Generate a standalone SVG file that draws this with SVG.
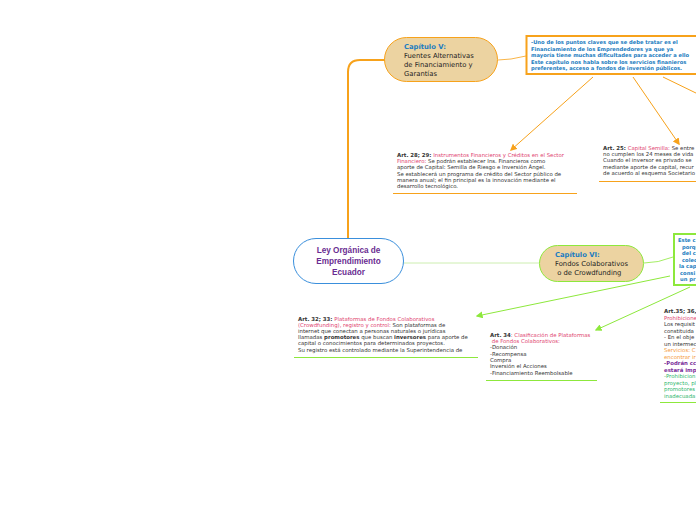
<svg xmlns="http://www.w3.org/2000/svg" width="696" height="520" viewBox="0 0 696 520">
<style>
.t{font-family:"DejaVu Sans",Verdana,sans-serif;font-size:5.4px;fill:#333}
.b{font-weight:bold}
.pk{fill:#e0436f}
.bl{fill:#1b7cc0;font-weight:bold}
.cap{font-family:"DejaVu Sans",Verdana,sans-serif;font-size:6.8px;fill:#222}
.or{fill:#f59a3b}
.pu{fill:#7a2e9a;font-weight:bold}
.gr{fill:#2bb56a}
.oc{stroke:#f7a21b;fill:none}
.gc{stroke:#8de83c;fill:none}
</style>
<defs>
<marker id="ao" viewBox="0 0 10 10" refX="8" refY="5" markerWidth="7" markerHeight="7" orient="auto"><path d="M0,0L10,5L0,10z" fill="#f7a21b"/></marker>
<marker id="ag" viewBox="0 0 10 10" refX="8" refY="5" markerWidth="7" markerHeight="7" orient="auto"><path d="M0,0L10,5L0,10z" fill="#8de83c"/></marker>
</defs>
<rect width="696" height="520" fill="#fff"/>
<g id="connectors">
<path class="oc" stroke-width="2" d="M348,238 L348,72 Q348,60 360,60 L385,60"/>
<path class="oc" stroke-width="0.8" d="M498,60 Q510,60 526,56"/>
<path class="oc" stroke-width="1" d="M593,77 L511,150" marker-end="url(#ao)"/>
<path class="oc" stroke-width="1" d="M633,77 L679,144" marker-end="url(#ao)"/>
<path class="oc" stroke-width="1" d="M663,77 L700,95"/>
<path stroke="#cdeeb0" stroke-width="1" fill="none" d="M403,263 L539,263"/>
<path class="gc" stroke-width="0.8" d="M644,263 Q658,263 673,257"/>
<path class="gc" stroke-width="1" d="M670,276 L477,316" marker-end="url(#ag)"/>
<path class="gc" stroke-width="1" d="M690,287 L596,330" marker-end="url(#ag)"/>
</g>
<g id="root">
<rect x="293.5" y="238.5" width="110" height="45" rx="22.5" fill="#fff" stroke="#3a8fdc" stroke-width="1"/>
<text font-family="Liberation Sans,Arial,sans-serif" font-size="8.2" font-weight="bold" fill="#6a2c91" text-anchor="middle"><tspan x="348.5" y="253">Ley Orgánica de</tspan><tspan x="348.5" y="264">Emprendimiento</tspan><tspan x="348.5" y="275">Ecuador</tspan></text>
</g>
<g id="cap5">
<rect x="384.5" y="37.5" width="113" height="44" rx="22" fill="#ecd3a1" stroke="#f7a21b" stroke-width="1"/>
<text class="cap"><tspan x="404" y="49" class="bl">Capítulo V:</tspan><tspan x="404" y="58">Fuentes Alternativas</tspan><tspan x="404" y="67">de Financiamiento y</tspan><tspan x="404" y="76">Garantías</tspan></text>
</g>
<g id="callout5">
<rect x="526.5" y="36" width="180" height="38" fill="#fff" stroke="#f7a21b" stroke-width="2"/>
<text class="t bl" style="font-size:5.2px"><tspan x="531" y="44">-Uno de los puntos claves que se debe tratar es el</tspan><tspan x="531" y="50.5">Financiamiento de los Emprendedores ya que ya</tspan><tspan x="531" y="57">mayoría tiene muchas dificultades para acceder a ello</tspan><tspan x="531" y="63.5">Este capítulo nos habla sobre los servicios finanieros</tspan><tspan x="531" y="70">preferentes, acceso a fondos de inversión públicos.</tspan></text>
</g>
<g id="art2829">
<text class="t"><tspan x="397" y="157"><tspan class="b">Art. 28; 29:</tspan><tspan class="pk"> Instrumentos Financieros y Créditos en el Sector</tspan></tspan><tspan x="397" y="163.2"><tspan class="pk">Financiero:</tspan> Se podrán establecer Ins. Financieros  como</tspan><tspan x="397" y="169.4">aporte de Capital: Semilla de Riesgo e Inversión Ángel.</tspan><tspan x="397" y="175.6">Se establecerá un programa de crédito del Sector público de</tspan><tspan x="397" y="181.8">manera anual; el fin principal es la innovación mediante el</tspan><tspan x="397" y="188">desarrollo tecnológico.</tspan></text>
<line x1="393" y1="193.5" x2="577" y2="193.5" stroke="#f7a21b" stroke-width="1.2"/>
</g>
<g id="art25">
<text class="t"><tspan x="603" y="150"><tspan class="b">Art. 25:</tspan><tspan class="pk"> Capital Semilla:</tspan> Se entre</tspan><tspan x="603" y="156.2">no cumplen los 24 meses de vida</tspan><tspan x="603" y="162.4">Cuando el inversor es privado se</tspan><tspan x="603" y="168.6">mediante aporte de capital, recur</tspan><tspan x="603" y="174.8">de acuerdo al esquema Societario</tspan></text>
<line x1="599" y1="181.5" x2="696" y2="181.5" stroke="#f7a21b" stroke-width="1.2"/>
</g>
<g id="cap6">
<rect x="539.5" y="245.5" width="104" height="36" rx="18" fill="#ecd3a1" stroke="#8de83c" stroke-width="1"/>
<text class="cap"><tspan x="555" y="257" class="bl">Capítulo VI:</tspan><tspan x="555" y="266">Fondos Colaborativos</tspan><tspan x="555" y="275"> o de Crowdfunding</tspan></text>
</g>
<g id="callout6">
<rect x="674" y="234" width="40" height="51" fill="#fff" stroke="#8de83c" stroke-width="2"/>
<text class="t bl" style="font-size:5.2px"><tspan x="678" y="242">Este c</tspan><tspan x="682" y="248.5">porqu</tspan><tspan x="682" y="255">del cr</tspan><tspan x="682" y="261.5">colec</tspan><tspan x="679" y="268">la cap</tspan><tspan x="680" y="274.5">consi</tspan><tspan x="680" y="281">un pr</tspan></text>
</g>
<g id="art3233">
<text class="t"><tspan x="298" y="320.5"><tspan class="b">Art. 32; 33:</tspan><tspan class="pk"> Plataformas de Fondos Colaborativos</tspan></tspan><tspan x="298" y="326.7"><tspan class="pk">(Crowdfunding), registro y control:</tspan> Son plataformas de</tspan><tspan x="298" y="332.9">internet que conectan a personas naturales o jurídicas</tspan><tspan x="298" y="339.1">llamadas <tspan class="b">promotores</tspan> que buscan <tspan class="b">inversores</tspan> para aporte de</tspan><tspan x="298" y="345.3">capital o conocimientos para determinados proyectos.</tspan><tspan x="298" y="351.5">Su registro está controlado mediante la Superintendencia de</tspan></text>
<line x1="294" y1="357.5" x2="478" y2="357.5" stroke="#8de83c" stroke-width="1.2"/>
</g>
<g id="art34">
<text class="t"><tspan x="490" y="336.5"><tspan class="b">Art. 34</tspan><tspan class="pk">: Clasificación de Plataformas</tspan></tspan><tspan x="490" y="343" class="pk"> de Fondos Colaborativos:</tspan><tspan x="490" y="349.3">-Donación</tspan><tspan x="490" y="355.6">-Recompensa</tspan><tspan x="490" y="361.9">Compra</tspan><tspan x="490" y="368.2">Inversión el Acciones</tspan><tspan x="490" y="374.5">-Financiamiento Reembolsable</tspan></text>
<line x1="486" y1="380.5" x2="597" y2="380.5" stroke="#8de83c" stroke-width="1.2"/>
</g>
<g id="art3536">
<text class="t"><tspan x="664" y="313" class="b">Art.35; 36,</tspan><tspan x="664" y="319.5" class="pk">Prohibicione</tspan><tspan x="664" y="326">Los requisit</tspan><tspan x="664" y="332.5">constituida</tspan><tspan x="664" y="339">- En el obje</tspan><tspan x="664" y="345.5">un intermec</tspan><tspan x="664" y="352" class="or">Servicios: C</tspan><tspan x="664" y="358.5" class="or">encontrar ir</tspan><tspan x="664" y="365" class="pu">-Podrán cc</tspan><tspan x="664" y="371.5" class="pu">estará imp</tspan><tspan x="664" y="378" class="gr">-Prohibicion</tspan><tspan x="664" y="384.5" class="gr">proyecto, pl</tspan><tspan x="664" y="391" class="gr">promotores</tspan><tspan x="664" y="397.5" class="gr">inadecuada</tspan></text>
<line x1="660" y1="402.5" x2="696" y2="402.5" stroke="#8de83c" stroke-width="1.2"/>
</g>
</svg>
